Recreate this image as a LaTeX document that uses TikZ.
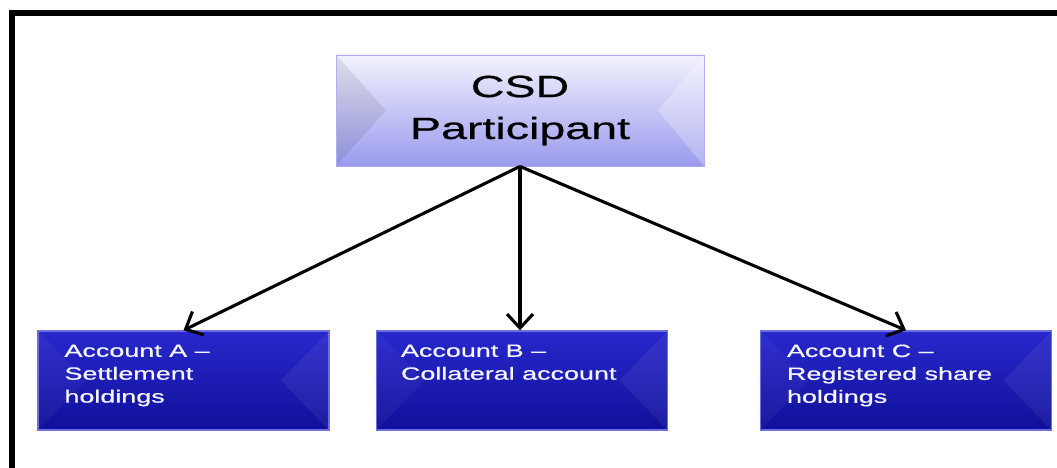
\documentclass[tikz,border=0pt]{standalone}
\usepackage{fontspec}
\setmainfont{Liberation Sans}
\newfontfamily\widesans[FakeStretch=1.52, FakeBold=0.6]{Liberation Sans}
\usetikzlibrary{arrows.meta, positioning}
\definecolor{lavtop}{HTML}{F2F2FD}
\definecolor{lavmid}{HTML}{C9C9F5}
\definecolor{lavbot}{HTML}{9A9AEE}
\definecolor{acctop}{HTML}{2828CC}
\definecolor{accbot}{HTML}{10109A}
\definecolor{accedge}{HTML}{6E6EE2}
\tikzstyle{participant} = [rectangle, minimum width=9.2cm, minimum height=2.775cm, inner sep=0pt,
    top color=lavtop, middle color=lavmid, bottom color=lavbot, draw=lavbot!80!white, line width=0.6pt,
    align=center, font=\widesans\fontsize{21.8}{29.8}\selectfont,
    path picture={
        \fill [black, opacity=0.08] (path picture bounding box.north west) -- ([xshift=1.25cm]path picture bounding box.west) -- (path picture bounding box.south west) -- cycle;
        \fill [white, opacity=0.25] (path picture bounding box.north east) -- ([xshift=-1.15cm]path picture bounding box.east) -- (path picture bounding box.south east) -- cycle;
    }]
\tikzstyle{account} = [rectangle, minimum width=7.27cm, minimum height=2.475cm, inner sep=0pt,
    top color=acctop, bottom color=accbot, draw=accedge, line width=1pt,
    path picture={
        \fill [white, opacity=0.04] (path picture bounding box.north west) -- ([xshift=1.2cm]path picture bounding box.west) -- (path picture bounding box.south west) -- cycle;
        \fill [white, opacity=0.06] (path picture bounding box.north east) -- ([xshift=-1.2cm]path picture bounding box.east) -- (path picture bounding box.south east) -- cycle;
    }]
\tikzstyle{account_text} = [anchor=north west, inner sep=0pt, align=left, text=white!96!blue,
    font=\widesans\fontsize{12.6}{16.3}\selectfont]
\tikzstyle{link} = [line width=2.2pt, black, -{Straight Barb[length=3.5mm, width=6.5mm]}]

\begin{document}
\begin{tikzpicture}

    \useasboundingbox (0, 0) rectangle (26.425, -11.7);

    % page frame, runs off the right and bottom
    \draw [line width=0.15cm] (0.2875, -13) |- (28, -0.325);

    \node (csd) [participant] at (13.0, -2.7625) {CSD\\Participant};

    \node (acc_a) [account] at (4.5875, -9.5125) {};
    \node (acc_b) [account] at (13.05, -9.5125) {};
    \node (acc_c) [account] at (22.65, -9.5125) {};

    \node (text_a) [account_text] at ([shift={(0.67, -0.35)}]acc_a.north west) {Account A –\\Settlement\\holdings};
    \node (text_b) [account_text] at ([shift={(0.62, -0.35)}]acc_b.north west) {Account B –\\Collateral account};
    \node (text_c) [account_text] at ([shift={(0.67, -0.35)}]acc_c.north west) {Account C –\\Registered share\\holdings};

    \draw [link] (csd.south) -- (acc_a.north);
    \draw [link] (csd.south) -- (acc_b.north -| csd.south);
    \draw [link] (csd.south) -- (acc_c.north);

\end{tikzpicture}
\end{document}
